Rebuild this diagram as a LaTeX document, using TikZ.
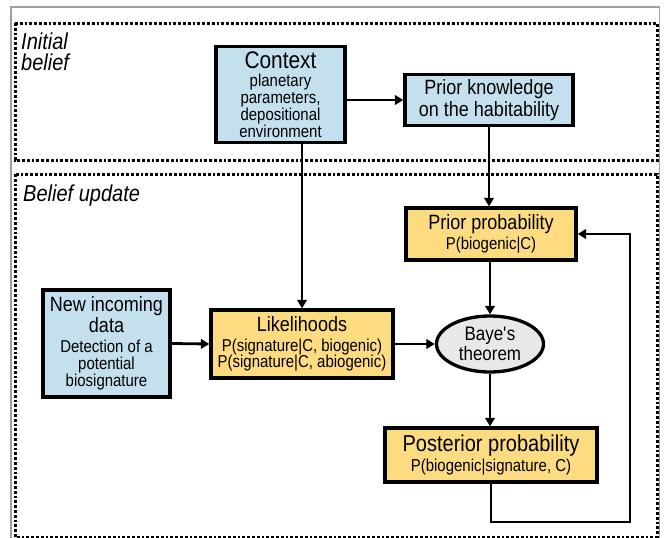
\documentclass[tikz,border=0pt]{standalone}
\usepackage{fontspec}
\setmainfont{Liberation Sans}[FakeStretch=0.87]
\usetikzlibrary{arrows.meta,shapes.geometric}
\definecolor{bluefill}{HTML}{C4E0EE}
\definecolor{yelfill}{HTML}{FDDB80}
\definecolor{grayfill}{HTML}{E8E8E8}
\definecolor{framegray}{HTML}{A0A0A0}
\newcommand\ftitle{\fontsize{20.7}{22}\selectfont}
\newcommand\fsub{\fontsize{17.2}{16.8}\selectfont}
\begin{document}
\begin{tikzpicture}[x=1pt,y=-1pt,
  box/.style={draw, line width=3.3pt, inner sep=1pt, align=center, font=\fsub},
  bluebox/.style={box, fill=bluefill},
  yelbox/.style={box, fill=yelfill},
  arr/.style={line width=2.8pt, -{Triangle[length=8.5pt,width=9.5pt]}},
  region/.style={line width=3pt, dash pattern=on 2.8pt off 2pt},
  regionlabel/.style={font=\fontsize{23}{21}\selectfont\itshape, align=left, anchor=north west, inner sep=0pt}]
\useasboundingbox (0,0) rectangle (664,538);
\fill[white] (0,0) rectangle (664,538);
\draw[framegray, line width=1.2pt] (11,538) -- (11,7) -- (659.5,7) -- (659.5,538);
\draw[region] (15,23) rectangle (657,160);
\draw[region] (15,174) rectangle (657,537);
\node[regionlabel] (lblinit) at (21,33) {Initial\\belief};
\node[regionlabel] (lblupd) at (23,185) {Belief update};

\node[bluebox, minimum width=129pt, minimum height=96pt] (ctx) at (280.5,94.5)
  {{\fontsize{24}{24}\selectfont Context}\\[2pt] planetary\\parameters,\\depositional\\environment};
\node[bluebox, minimum width=168pt, minimum height=51pt, font=\fontsize{20.7}{22}\selectfont] (pk) at (489,100)
  {Prior knowledge\\on the habitability};
\node[bluebox, minimum width=127pt, minimum height=107pt] (nid) at (106.5,343.5)
  {{\ftitle New incoming}\\{\ftitle data}\\[4pt] Detection of a\\potential\\biosignature};
\node[yelbox, minimum width=182pt, minimum height=68pt] (lik) at (302,344)
  {{\ftitle Likelihoods}\\[3pt] P(signature|C, biogenic)\\P(signature|C, abiogenic)};
\node[ellipse, draw, line width=3.3pt, fill=grayfill, minimum width=107pt, minimum height=56pt,
  inner sep=0pt, align=center, font=\fontsize{19.5}{20}\selectfont] (bt) at (490,344)
  {Baye\textquotesingle s\\theorem};
\node[yelbox, minimum width=170pt, minimum height=52pt] (pp) at (491,234)
  {{\ftitle Prior probability}\\[3pt] P(biogenic|C)};
\node[yelbox, minimum width=212pt, minimum height=54pt] (post) at (491,455)
  {{\fontsize{23}{23}\selectfont Posterior probability}\\[2pt] P(biogenic|signature, C)};

\draw[arr] (pk.west -| ctx.east) -- (pk.west);
\draw[arr] (ctx.south -| lik.north) -- (lik.north);
\draw[arr] (pk.south) -- (pk.south |- pp.north);
\draw[arr] (nid.east) -- (lik.west);
\draw[arr] (lik.east) -- (bt.west);
\draw[arr] (bt.north |- pp.south) -- (bt.north);
\draw[arr] (bt.south) -- (bt.south |- post.north);
\coordinate (fbturn) at (630,522);
\draw[arr] (post.south) |- (fbturn) |- (pp.east);
\end{tikzpicture}
\end{document}
